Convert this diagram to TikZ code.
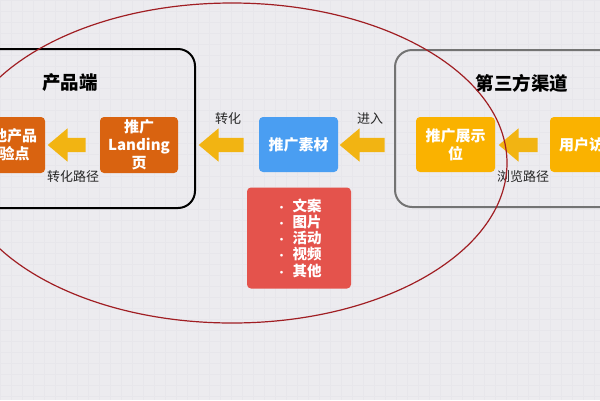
\documentclass[tikz,border=0pt]{standalone}
\usepackage{fontspec}
\setmainfont{Noto Sans CJK SC}
\usetikzlibrary{shapes.arrows}
\definecolor{bg}{RGB}{236,235,239}
\definecolor{gridc}{RGB}{231,230,235}
\definecolor{dorange}{RGB}{217,99,16}
\definecolor{arrowy}{RGB}{242,180,18}
\definecolor{blueb}{RGB}{74,158,242}
\definecolor{redb}{RGB}{228,83,76}
\definecolor{yellowb}{RGB}{250,178,0}
\definecolor{ellred}{RGB}{160,30,35}
\definecolor{grayframe}{RGB}{115,115,115}
\newcommand{\bul}{\makebox[16pt][l]{\fontsize{10}{10}\selectfont ·}}
\begin{document}
\begin{tikzpicture}[x=1pt,y=-1pt,
  fillbox/.style={rectangle, rounded corners=4pt, inner sep=0pt, text=white,
    font=\fontsize{15}{18}\selectfont\bfseries, align=center},
  blockarrow/.style={single arrow, fill=arrowy, draw=none, inner sep=7pt,
    single arrow head extend=9.5pt, single arrow tip angle=80,
    shape border rotate=180, minimum height=#1},
  lbl/.style={font=\fontsize{13}{15}\selectfont, text=black!85},
  ttl/.style={font=\fontsize{18.5}{21}\selectfont\bfseries, text=black},
  frame/.style={line width=2pt, rounded corners=17pt}
]
\useasboundingbox (0,0) rectangle (600,400);
\clip (0,0) rectangle (600,400);
\fill[bg] (0,0) rectangle (600,400);
\foreach \i in {0,11,...,600} \draw[gridc, line width=0.4pt] (\i,0) -- (\i,400);
\foreach \j in {0,11,...,400} \draw[gridc, line width=0.4pt] (0,\j) -- (600,\j);

% frames
\draw[frame, black] (-30,49) rectangle (195,208);
\draw[frame, grayframe] (395,50) rectangle (640,207);
\node[ttl] (t1) at (70,83) {产品端};
\node[ttl] (t2) at (522,83) {第三方渠道};

% boxes
\node[fillbox, fill=dorange, minimum width=76pt, minimum height=56pt] (exp) at (7,145) {其他产品\\体验点};
\node[fillbox, fill=dorange, minimum width=78pt, minimum height=56pt] (land) at (139,145) {推广\\Landing\\页};
\node[fillbox, fill=blueb, minimum width=79pt, minimum height=55pt] (mat) at (298.5,144.5) {推广素材};
\node[fillbox, fill=redb, minimum width=104pt, minimum height=101pt,
  font=\fontsize{14.5}{16.2}\selectfont\bfseries, align=left] (list) at (299,238)
  {\bul 文案\\\bul 图片\\\bul 活动\\\bul 视频\\\bul 其他};
\node[fillbox, fill=yellowb, minimum width=79pt, minimum height=55pt] (pos) at (455.5,144.5) {推广展示\\位};
\node[fillbox, fill=yellowb, minimum width=78pt, minimum height=55pt] (user) at (589,144.5) {用户访问};

% block arrows
\node[blockarrow=38pt] (a1) at (71,145) {};
\node[blockarrow=45pt] (a2) at (225.5,145) {};
\node[blockarrow=45pt] (a3) at (366.5,145) {};
\node[blockarrow=39pt] (a4) at (522.5,145) {};

% labels
\node[lbl] (l1) at (73,177) {转化路径};
\node[lbl] (l2) at (228,119) {转化};
\node[lbl] (l3) at (370,119) {进入};
\node[lbl] (l4) at (523,177) {浏览路径};

% ellipse
\draw[ellred, line width=1.2pt] (232,163) ellipse [x radius=275, y radius=160];
\end{tikzpicture}
\end{document}
